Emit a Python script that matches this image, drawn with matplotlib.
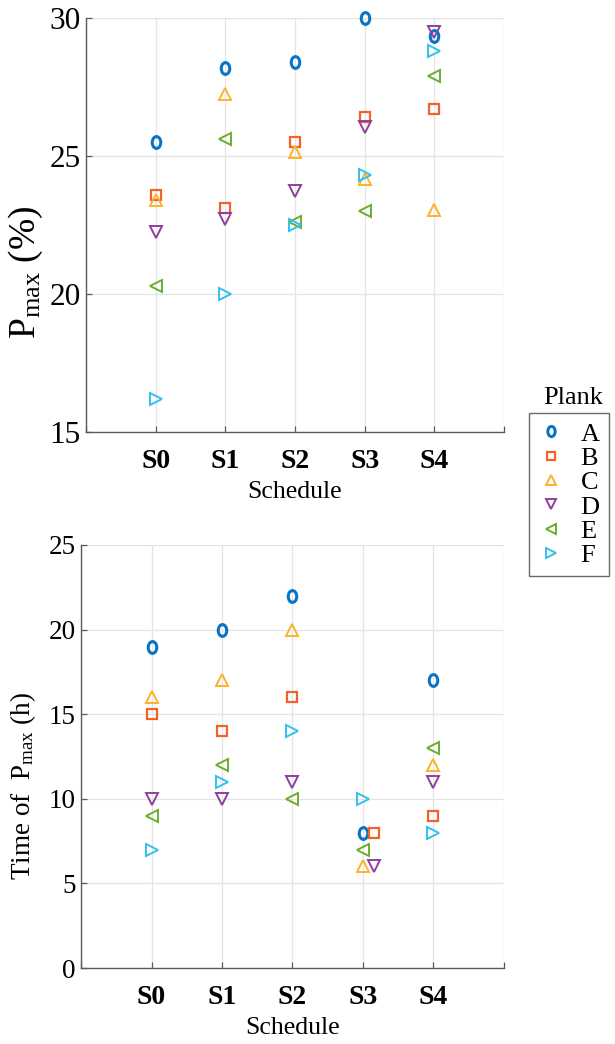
import matplotlib
matplotlib.use("Agg")
import matplotlib.pyplot as plt
from matplotlib.markers import MarkerStyle
from matplotlib.transforms import Affine2D
from matplotlib.lines import Line2D

plt.rcParams['font.family'] = ['Liberation Serif', 'DejaVu Serif']
plt.rcParams['mathtext.fontset'] = 'custom'
plt.rcParams['mathtext.rm'] = 'Liberation Serif'
plt.rcParams['mathtext.it'] = 'Liberation Serif:italic'

# ---- data ----
schedules = ['S0', 'S1', 'S2', 'S3', 'S4']
planks = ['A', 'B', 'C', 'D', 'E', 'F']

pmax_A = [25.5, 28.2, 28.4, 30.0, 29.35]
pmax_B = [23.6, 23.1, 25.5, 26.4, 26.7]
pmax_C = [23.4, 27.25, 25.15, 24.15, 23.05]
pmax_D = [22.25, 22.7, 23.75, 26.05, 29.5]
pmax_E = [20.3, 25.6, 22.6, 23.0, 27.9]
pmax_F = [16.2, 20.0, 22.5, 24.3, 28.8]

time_A = [19, 20, 22, 8, 17]
time_B = [15, 14, 16, 8, 9]
time_C = [16, 17, 20, 6, 12]
time_D = [10, 10, 11, 6, 11]
time_E = [9, 12, 10, 7, 13]
time_F = [7, 11, 14, 10, 8]

pmax_values = [pmax_A, pmax_B, pmax_C, pmax_D, pmax_E, pmax_F]
time_values = [time_A, time_B, time_C, time_D, time_E, time_F]

# ---- styling ----
colors = ['#0a74c4', '#f4622a', '#fdb22a', '#8e3f9e', '#6aae2e', '#33c0ee']
shapes = ['o', 's', '^', 'v', '<', '>']
squeeze = [0.72, 0.9, 1.0, 1.0, 1.0, 1.0]
edge_w = [2.2, 1.6, 1.4, 1.4, 1.4, 1.4]
sizes = [8.5, 7.6, 8.0, 8.0, 8.0, 8.0]
# small horizontal nudges so coincident points at S3 stay visible
time_nudge = [[0, 0, 0, 0, 0], [0, 0, 0, 0.16, 0], [0, 0, 0, 0, 0],
              [0, 0, 0, 0.16, 0], [0, 0, 0, 0, 0], [0, 0, 0, 0, 0]]

def marker(i):
    return MarkerStyle(shapes[i], transform=Affine2D().scale(squeeze[i], 1.0))

axis_col = '#5a5a5a'
grid_col = '#e4e4e4'

fig = plt.figure(figsize=(6.15, 10.44), dpi=100)
ax1 = fig.add_axes([86 / 615, 1 - 432 / 1044, 418 / 615, 414 / 1044])
ax2 = fig.add_axes([81 / 615, 1 - 968 / 1044, 423 / 615, 423 / 1044])

xpos = list(range(1, len(schedules) + 1))

def style_axes(ax, ylim, yticks, ysize):
    ax.set_xlim(0, 6)
    ax.set_ylim(*ylim)
    ax.set_xticks(range(0, 7))
    ax.set_xticklabels([''] + schedules + [''], fontsize=20, fontweight='bold')
    ax.set_yticks(yticks)
    ax.set_yticklabels([str(t) for t in yticks], fontsize=ysize)
    ax.grid(True, color=grid_col, linewidth=0.9)
    ax.set_axisbelow(True)
    for s in ['top', 'right']:
        ax.spines[s].set_visible(False)
    for s in ['left', 'bottom']:
        ax.spines[s].set_color(axis_col)
        ax.spines[s].set_linewidth(1.0)
    ax.tick_params(direction='in', length=4, width=0.9, color=axis_col,
                   top=False, right=False)
    ax.tick_params(axis='x', pad=12)
    ax.tick_params(axis='y', pad=4)
    ax.set_xlabel('Schedule', fontsize=18.5, labelpad=5)

for i in range(len(planks)):
    ax1.plot(xpos, pmax_values[i], linestyle='none', marker=marker(i),
             markersize=sizes[i], markerfacecolor='none',
             markeredgecolor=colors[i], markeredgewidth=edge_w[i],
             clip_on=False, zorder=3)
    xs = [x + d for x, d in zip(xpos, time_nudge[i])]
    ax2.plot(xs, time_values[i], linestyle='none', marker=marker(i),
             markersize=sizes[i], markerfacecolor='none',
             markeredgecolor=colors[i], markeredgewidth=edge_w[i],
             clip_on=False, zorder=3)

style_axes(ax1, (15, 30), [15, 20, 25, 30], 22.5)
style_axes(ax2, (0, 25), [0, 5, 10, 15, 20, 25], 19.5)

ax1.set_ylabel(r'P$_{\mathrm{max}}$ (%)', fontsize=27, va='center')
ax1.yaxis.set_label_coords(-0.145, 0.386)
ax2.set_ylabel(r'Time of  P$_{\mathrm{max}}$ (h)', fontsize=19.5, va='center')
ax2.yaxis.set_label_coords(-0.137, 0.43)

# legend
handles = [Line2D([], [], linestyle='none', marker=marker(i),
                  markersize=sizes[i] - 1.2, markerfacecolor='none',
                  markeredgecolor=colors[i], markeredgewidth=edge_w[i])
           for i in range(len(planks))]
leg = fig.legend(handles, planks, loc='upper left',
                 bbox_to_anchor=(529 / 615, 1 - 413 / 1044),
                 bbox_transform=fig.transFigure, borderaxespad=0,
                 fontsize=19, frameon=True, fancybox=False,
                 labelspacing=0.03, handlelength=1.0, handletextpad=0.6,
                 borderpad=0.35)
leg.get_frame().set_edgecolor('#444444')
leg.get_frame().set_linewidth(1.0)
fig.text(573 / 615, 1 - 398 / 1044, 'Plank', fontsize=19,
         ha='center', va='center')

fig.savefig('out.png', dpi=100)
